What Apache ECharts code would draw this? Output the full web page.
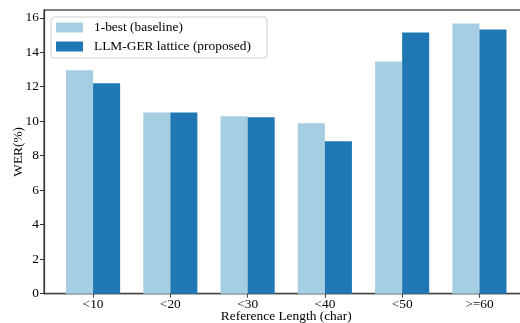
<!DOCTYPE html>
<html>
<head>
<meta charset="utf-8">
<script src="https://cdn.jsdelivr.net/npm/echarts@6/dist/echarts.min.js"></script>
<style>
html,body{margin:0;padding:0;background:#fff;}
#chart{width:520px;height:323px;}
</style>
</head>
<body>
<div id="chart"></div>
<script>
const categories = ['<10', '<20', '<30', '<40', '<50', '>=60'];
const baseline = [12.95, 10.51, 10.29, 9.88, 13.47, 15.67];
const proposed = [12.20, 10.51, 10.23, 8.84, 15.15, 15.32];
const yTicks = [0, 2, 4, 6, 8, 10, 12, 14, 16];
const seriesNames = ['1-best (baseline)', 'LLM-GER lattice (proposed)'];

const FONT = '"Liberation Serif", "DejaVu Serif", serif';
const FS = 13.4;
const catIdx = categories.map((c, i) => i);

const chart = echarts.init(document.getElementById('chart'), null, {renderer: 'canvas'});
chart.setOption({
  animation: false,
  backgroundColor: '#fff',
  textStyle: {fontFamily: FONT, color: '#000'},
  grid: {
    left: 44, top: 10, right: -8.5, bottom: 29.3,
    containLabel: false, outerBoundsMode: 'none',
    show: true, borderColor: '#555', borderWidth: 1.3, backgroundColor: 'transparent'
  },
  legend: {
    left: 51, top: 17,
    orient: 'vertical',
    padding: [4, 16, 5, 5],
    itemWidth: 27, itemHeight: 10, itemGap: 6,
    backgroundColor: '#fff',
    borderColor: '#d0d0d0', borderWidth: 1, borderRadius: 3,
    icon: 'rect',
    textStyle: {fontFamily: FONT, fontSize: FS, color: '#000', padding: [0, 0, 0, 6]},
    data: seriesNames
  },
  xAxis: {
    type: 'value',
    min: -0.635, max: 5.635,
    name: 'Reference Length (char)',
    nameLocation: 'middle', nameGap: 16, nameMoveOverlap: false,
    nameTextStyle: {fontFamily: FONT, fontSize: FS, color: '#000'},
    axisLine: {show: true, onZero: false, lineStyle: {color: '#444', width: 1.3}},
    axisTick: {show: true, inside: false, length: 4, customValues: catIdx, lineStyle: {color: '#444'}},
    axisLabel: {
      customValues: catIdx, margin: 4,
      fontFamily: FONT, fontSize: FS, color: '#000',
      formatter: v => categories[Math.round(v)]
    },
    splitLine: {show: false}
  },
  yAxis: {
    type: 'value',
    min: 0, max: 16.45,
    name: 'WER(%)',
    nameLocation: 'middle', nameGap: 19, nameMoveOverlap: false,
    nameTextStyle: {fontFamily: FONT, fontSize: FS, color: '#000'},
    axisLine: {show: true, onZero: false, lineStyle: {color: '#333', width: 1.2}},
    axisTick: {show: true, inside: false, length: 4, customValues: yTicks, lineStyle: {color: '#333'}},
    axisLabel: {customValues: yTicks, margin: 5, fontFamily: FONT, fontSize: FS, color: '#000'},
    splitLine: {show: false}
  },
  series: [
    {
      name: seriesNames[0], type: 'bar',
      barWidth: '35%', barGap: '0%',
      itemStyle: {color: '#a6cee3'},
      data: baseline.map((v, i) => [catIdx[i], v])
    },
    {
      name: seriesNames[1], type: 'bar',
      barWidth: '35%', barGap: '0%',
      itemStyle: {color: '#1f78b4'},
      data: proposed.map((v, i) => [catIdx[i], v])
    }
  ]
});
</script>
</body>
</html>
